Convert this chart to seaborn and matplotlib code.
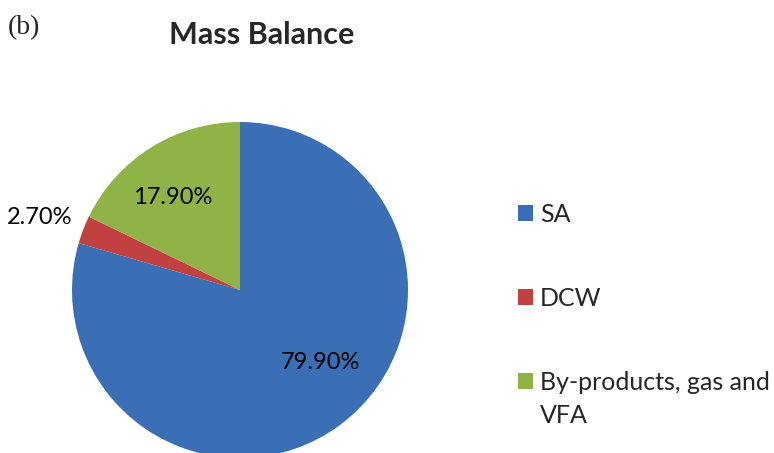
import seaborn as sns
import matplotlib.pyplot as plt

### Data
categories = ["SA", "DCW", "By-products, gas and"]
label_wrap = "VFA"
shares = [79.9, 2.7, 17.9]
pct_labels = ["79.90%", "2.70%", "17.90%"]
colors = ["#3a6fb6", "#c0413f", "#8fb347"]

sns.set_theme(style="white")
plt.rcParams['font.family'] = ['Lato', 'DejaVu Sans']

fig = plt.figure(figsize=(7.74, 4.53), dpi=100)
# pie of radius 168 px centred at (240, 290) px from top-left
ax = fig.add_axes([72 / 774, -5 / 453, 336 / 774, 336 / 453])

wedges, _ = ax.pie(shares, colors=colors, startangle=90, counterclock=False,
                   radius=1, wedgeprops=dict(linewidth=0))
ax.set_xlim(-1, 1)
ax.set_ylim(-1, 1)
ax.set_aspect('equal')
ax.axis('off')

### Percentage labels
label_pos = [(0.48, -0.43), (-1.19, 0.43), (-0.40, 0.55)]
for (x, y), txt in zip(label_pos, pct_labels):
    ax.text(x, y, txt, ha='center', va='center', fontsize=17, color='black',
            clip_on=False)

### Title and panel tag
fig.text(262 / 774, 1 - 35 / 453, "Mass Balance", ha='center', va='center',
         fontsize=22, fontweight='bold')
fig.text(8 / 774, 1 - 28 / 453, "(b)", ha='left', va='center',
         fontsize=20, family='Liberation Serif')

### Legend
leg = fig.legend(wedges, categories, loc='upper left',
                 bbox_to_anchor=(495 / 774, 1 - 180 / 453), frameon=False,
                 fontsize=18, labelspacing=2.45, handlelength=0.6,
                 handleheight=0.6, handletextpad=0.3)

# second line of the wrapped last label, hanging below its first line
fig.canvas.draw()
last = leg.get_texts()[2]
bx, by = last.get_transform().transform(last.get_position())
fig.text(bx / 774, (by - 33) / 453, label_wrap, ha='left', va='baseline',
         fontsize=18)

fig.savefig("out.png", dpi=100)
